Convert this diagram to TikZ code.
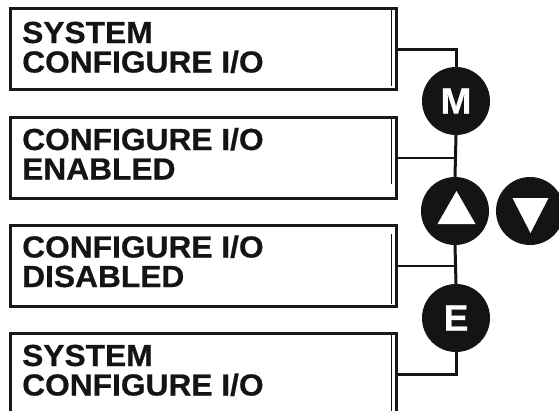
\documentclass[tikz,border=0pt]{standalone}
\usepackage{fontspec}
\setmainfont{Liberation Sans}
\newfontfamily\lcdfont[BoldFeatures={FakeBold=0.6}]{Liberation Sans}
\begin{document}
\begin{tikzpicture}[x=1pt,y=-1pt,
  lcdbox/.style={draw=black!90, line width=3.2pt, minimum width=386pt, minimum height=81pt, anchor=north west, inner sep=0pt},
  lcdtext/.style={font=\lcdfont\fontsize{30.5}{30.5}\selectfont\bfseries, text=black!92, anchor=base west, inner sep=0pt, xscale=1.04, transform shape},
  key/.style={circle, fill=black!92, minimum size=68pt, inner sep=0pt, text=white, font=\lcdfont\fontsize{37}{37}\selectfont\bfseries},
  arrowkey/.style={circle, fill=black!92, minimum size=68pt, inner sep=0pt},
  tri/.style={fill=white, draw=none},
  link/.style={draw=black!92, line width=3pt},
  thinlink/.style={draw=black!92, line width=2pt},
  inner/.style={draw=black!92, line width=1.6pt}]
\useasboundingbox (0,0) rectangle (559,410);
\clip (0,0) rectangle (559,410);
% boxes
\node[lcdbox] (b1) at (9,7) {};
\node[lcdbox] (b2) at (9,116) {};
\node[lcdbox] (b3) at (9,224) {};
\node[lcdbox] (b4) at (9,332) {};
% inner right lines
\draw[inner] (391.5,9) -- (391.5,86);
\draw[inner] (391.5,118) -- (391.5,184);
\draw[inner] (391.5,234) -- (391.5,304);
\draw[inner] (391.5,334) -- (391.5,412);
% texts
\node[lcdtext] (t1a) at (22,43) {SYSTEM};
\node[lcdtext] (t1b) at (22,72.5) {CONFIGURE I/O};
\node[lcdtext] (t2a) at (22,150) {CONFIGURE I/O};
\node[lcdtext] (t2b) at (22,179.5) {ENABLED};
\node[lcdtext] (t3a) at (22,257.5) {CONFIGURE I/O};
\node[lcdtext] (t3b) at (22,287) {DISABLED};
\node[lcdtext] (t4a) at (22,366) {SYSTEM};
\node[lcdtext] (t4b) at (22,395.5) {CONFIGURE I/O};
% keys
\node[key] (M) at (456,101) {M};
\node[arrowkey] (up) at (455,211) {};
\node[arrowkey] (dn) at (530,211) {};
\node[key] (E) at (456,318) {E};
\fill[tri] (456.5,191) -- (475.5,224) -- (437.5,224) -- cycle;
\fill[tri] (512.5,198) -- (548.5,198) -- (530.5,233) -- cycle;
% connectors
\draw[link] (b1.east) -| (M.north);
\draw[link] (M.south) -- (up.north);
\draw[thinlink] (b2.east) -- (b2.east -| up.north);
\draw[link] (up.south) -- (E.north);
\draw[thinlink] (b3.east) -- (b3.east -| E.north);
\draw[link] (E.south) |- (b4.east);
\end{tikzpicture}
\end{document}
